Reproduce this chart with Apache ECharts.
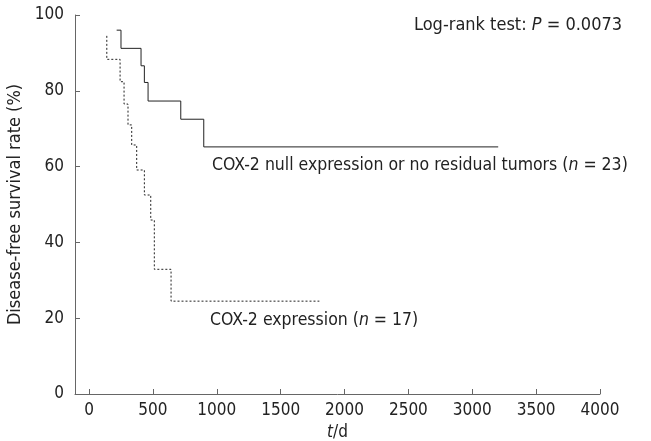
<!DOCTYPE html>
<html>
<head>
<meta charset="utf-8">
<script src="https://cdn.jsdelivr.net/npm/echarts@6/dist/echarts.min.js"></script>
<style>
  html, body { margin: 0; padding: 0; background: #fff; }
  #chart { width: 651px; height: 441px; }
</style>
</head>
<body>
<div id="chart"></div>
<script>
// survival curves (t in days, rate in %)
var nullTimes = [216, 250, 407, 433, 462, 718, 898, 3203];
var nullRates = [96.0, 91.2, 86.6, 82.2, 77.3, 72.5, 65.2, 65.2];

var exprTimes = [139, 139, 243, 274, 305, 334, 373, 433, 483, 511, 642, 1803];
var exprRates = [94.5, 88.3, 82.4, 76.5, 71.0, 65.7, 59.1, 52.5, 45.9, 32.9, 24.5, 24.5];

var xTicks = [0, 500, 1000, 1500, 2000, 2500, 3000, 3500, 4000];

function pairs(ts, vs) {
    var out = [];
    for (var i = 0; i < ts.length; i++) out.push([ts[i], vs[i]]);
    return out;
}

var myChart = echarts.init(document.getElementById('chart'));
var font = '"DejaVu Sans Condensed", "DejaVu Sans"';
var txt = '#222';
var fs = 17;

function note(left, top, text, size) {
    return {
        type: 'text', left: left, top: top,
        style: { text: text, fontFamily: font, fontSize: size, fill: txt,
            rich: { i: { fontStyle: 'italic', fontFamily: font, fontSize: size, fill: txt } } }
    };
}

var option = {
    animation: false,
    grid: { left: 75, right: 51, top: 15, bottom: 47, outerBoundsMode: 'none' },
    xAxis: {
        type: 'value',
        min: -110,
        max: 4000,
        name: '{i|t}/d',
        nameLocation: 'middle',
        nameGap: 22,
        nameTextStyle: { fontFamily: font, fontSize: fs, color: txt,
            rich: { i: { fontStyle: 'italic', fontFamily: font, fontSize: fs, color: txt } } },
        axisLine: { onZero: false, lineStyle: { color: '#666' } },
        axisTick: { inside: true, length: 5, customValues: xTicks, lineStyle: { color: '#666' } },
        axisLabel: { customValues: xTicks, fontFamily: font, fontSize: fs, color: txt, margin: 8,
            formatter: function (v) { return String(v); } },
        splitLine: { show: false }
    },
    yAxis: {
        type: 'value',
        min: 0,
        max: 100,
        interval: 20,
        name: 'Disease-free survival rate (%)',
        nameLocation: 'middle',
        nameGap: 44,
        nameTextStyle: { fontFamily: font, fontSize: 18, color: txt },
        axisLine: { show: true, onZero: false, lineStyle: { color: '#666' } },
        axisTick: { show: true, inside: true, length: 5, lineStyle: { color: '#666' } },
        axisLabel: { fontFamily: font, fontSize: fs, color: txt, margin: 11 },
        splitLine: { show: false }
    },
    series: [
        {
            name: 'COX-2 null expression or no residual tumors',
            type: 'line',
            step: 'end',
            symbol: 'none',
            lineStyle: { color: '#222', width: 1 },
            data: pairs(nullTimes, nullRates)
        },
        {
            name: 'COX-2 expression',
            type: 'line',
            step: 'end',
            symbol: 'none',
            lineStyle: { color: '#222', width: 1, type: [2, 2] },
            data: pairs(exprTimes, exprRates)
        }
    ],
    graphic: [
        note(414, 16, 'Log-rank test: {i|P} = 0.0073', 18),
        note(212, 156, 'COX-2 null expression or no residual tumors ({i|n} = 23)', 17.5),
        note(210, 311, 'COX-2 expression ({i|n} = 17)', 17.5)
    ]
};

myChart.setOption(option);
</script>
</body>
</html>
